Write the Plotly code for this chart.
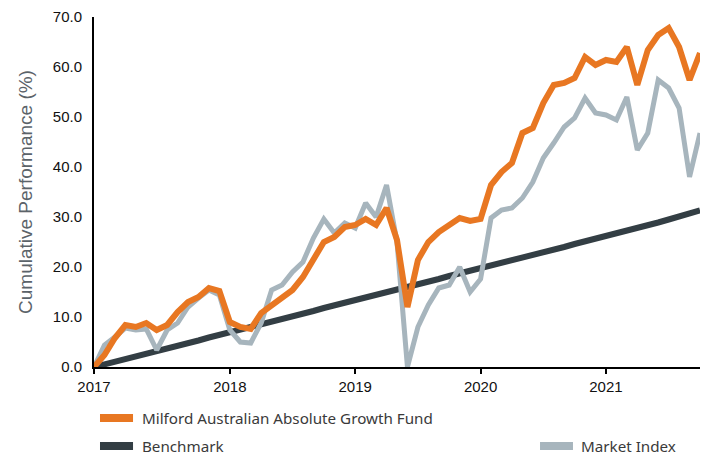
import plotly.graph_objects as go

months = ["2016-12"] + [f"{y}-{m:02d}" for y in range(2017, 2022) for m in range(1, 13)]
months = months[:59]

fund = [0.0, 2.4, 5.8, 8.4, 8.0, 8.8, 7.4, 8.4, 11.0, 13.0, 14.0, 15.8, 15.2,
        9.0, 8.0, 7.6, 10.8, 12.4, 14.0, 15.4, 18.0, 21.4, 25.0, 26.0, 28.0,
        28.4, 29.6, 28.4, 31.8, 25.4, 12.0, 21.4, 25.0, 27.0, 28.4, 29.8, 29.2,
        29.6, 36.4, 39.0, 40.8, 46.8, 47.8, 52.8, 56.4, 56.8, 57.8, 62.0, 60.4,
        61.4, 61.0, 64.0, 56.4, 63.4, 66.4, 67.8, 64.0, 57.4, 62.8]

market = [0.0, 4.4, 6.0, 7.8, 7.4, 7.6, 3.4, 7.4, 8.8, 12.0, 13.8, 15.4, 14.4,
          7.4, 5.0, 4.8, 8.8, 15.4, 16.4, 19.0, 21.0, 25.8, 29.6, 26.8, 28.8,
          27.8, 32.8, 30.0, 36.4, 25.0, 0.0, 8.0, 12.4, 15.8, 16.4, 20.0, 15.0,
          17.6, 29.8, 31.4, 31.8, 33.8, 37.0, 41.8, 44.8, 48.0, 49.8, 53.8, 50.8,
          50.4, 49.4, 54.0, 43.4, 46.8, 57.4, 55.8, 51.8, 38.0, 46.8]

benchmark = [0.0, 0.5, 1.1, 1.6, 2.1, 2.7, 3.2, 3.7, 4.3, 4.8, 5.3, 5.9, 6.4,
             7.0, 7.5, 8.0, 8.6, 9.1, 9.6, 10.2, 10.7, 11.2, 11.8, 12.3, 12.8,
             13.4, 13.9, 14.4, 15.0, 15.5, 16.0, 16.6, 17.1, 17.6, 18.2, 18.7,
             19.2, 19.8, 20.3, 20.8, 21.4, 21.9, 22.4, 23.0, 23.5, 24.0, 24.6,
             25.1, 25.6, 26.2, 26.7, 27.3, 27.8, 28.4, 28.9, 29.5, 30.1, 30.7, 31.3]

tick_months = ["2016-12", "2018-01", "2019-01", "2020-01", "2021-01"]
tick_labels = ["2017", "2018", "2019", "2020", "2021"]
y_ticks = [0, 10, 20, 30, 40, 50, 60, 70]

series_names = ["Milford Australian Absolute Growth Fund", "Benchmark", "Market Index"]

ORANGE = "#E87722"
DARK = "#333E44"
GREY = "#A7B5BD"

fig = go.Figure()
fig.add_trace(go.Scatter(x=months, y=benchmark, mode="lines", name=series_names[1],
                         line=dict(color=DARK, width=6)))
fig.add_trace(go.Scatter(x=months, y=market, mode="lines", name=series_names[2],
                         line=dict(color=GREY, width=5)))
fig.add_trace(go.Scatter(x=months, y=fund, mode="lines", name=series_names[0],
                         line=dict(color=ORANGE, width=6)))

# legend built from annotations + swatches (paper coordinates)
legend_items = [
    (series_names[0], ORANGE, 0.0099, 0.0644, 0.0759, -0.1457),
    (series_names[1], DARK, 0.0099, 0.0644, 0.0759, -0.2257),
    (series_names[2], GREY, 0.7360, 0.7904, 0.8003, -0.2257),
]
for name, color, sx0, sx1, tx, yy in legend_items:
    fig.add_shape(type="line", xref="paper", yref="paper", x0=sx0, x1=sx1, y0=yy, y1=yy,
                  line=dict(color=color, width=8))
    fig.add_annotation(text=name, xref="paper", yref="paper", x=tx, y=yy,
                       xanchor="left", yanchor="middle", showarrow=False,
                       font=dict(family="'Noto Sans', Lato, sans-serif", size=15.2,
                                 color="#3A3A3A"))

fig.update_layout(
    width=702, height=458,
    margin=dict(l=94, r=2, t=17, b=91),
    paper_bgcolor="white", plot_bgcolor="white",
    font=dict(family="'Liberation Sans', Arial, sans-serif", color="#222222"),
    showlegend=False,
)
fig.update_xaxes(type="category", range=[0, 58], automargin=False,
                 tickmode="array", tickvals=tick_months, ticktext=tick_labels,
                 showline=True, linecolor="black", linewidth=2,
                 ticks="outside", ticklen=5, tickwidth=2, tickcolor="black",
                 showgrid=False, zeroline=False,
                 tickfont=dict(size=15, color="#111111"))
fig.update_yaxes(range=[0, 70], tickmode="array", tickvals=y_ticks,
                 tickformat=".1f", automargin=False,
                 showline=True, linecolor="black", linewidth=2,
                 ticks="", showgrid=False, zeroline=False,
                 ticklabelstandoff=7,
                 tickfont=dict(size=15, color="#111111"),
                 title=dict(text="Cumulative Performance (%)", standoff=15,
                            font=dict(size=19, color="#5B6369")))

fig.write_html("out.html", config={"displayModeBar": False},
               post_script="document.body.style.margin='0';document.body.style.overflow='hidden';")
